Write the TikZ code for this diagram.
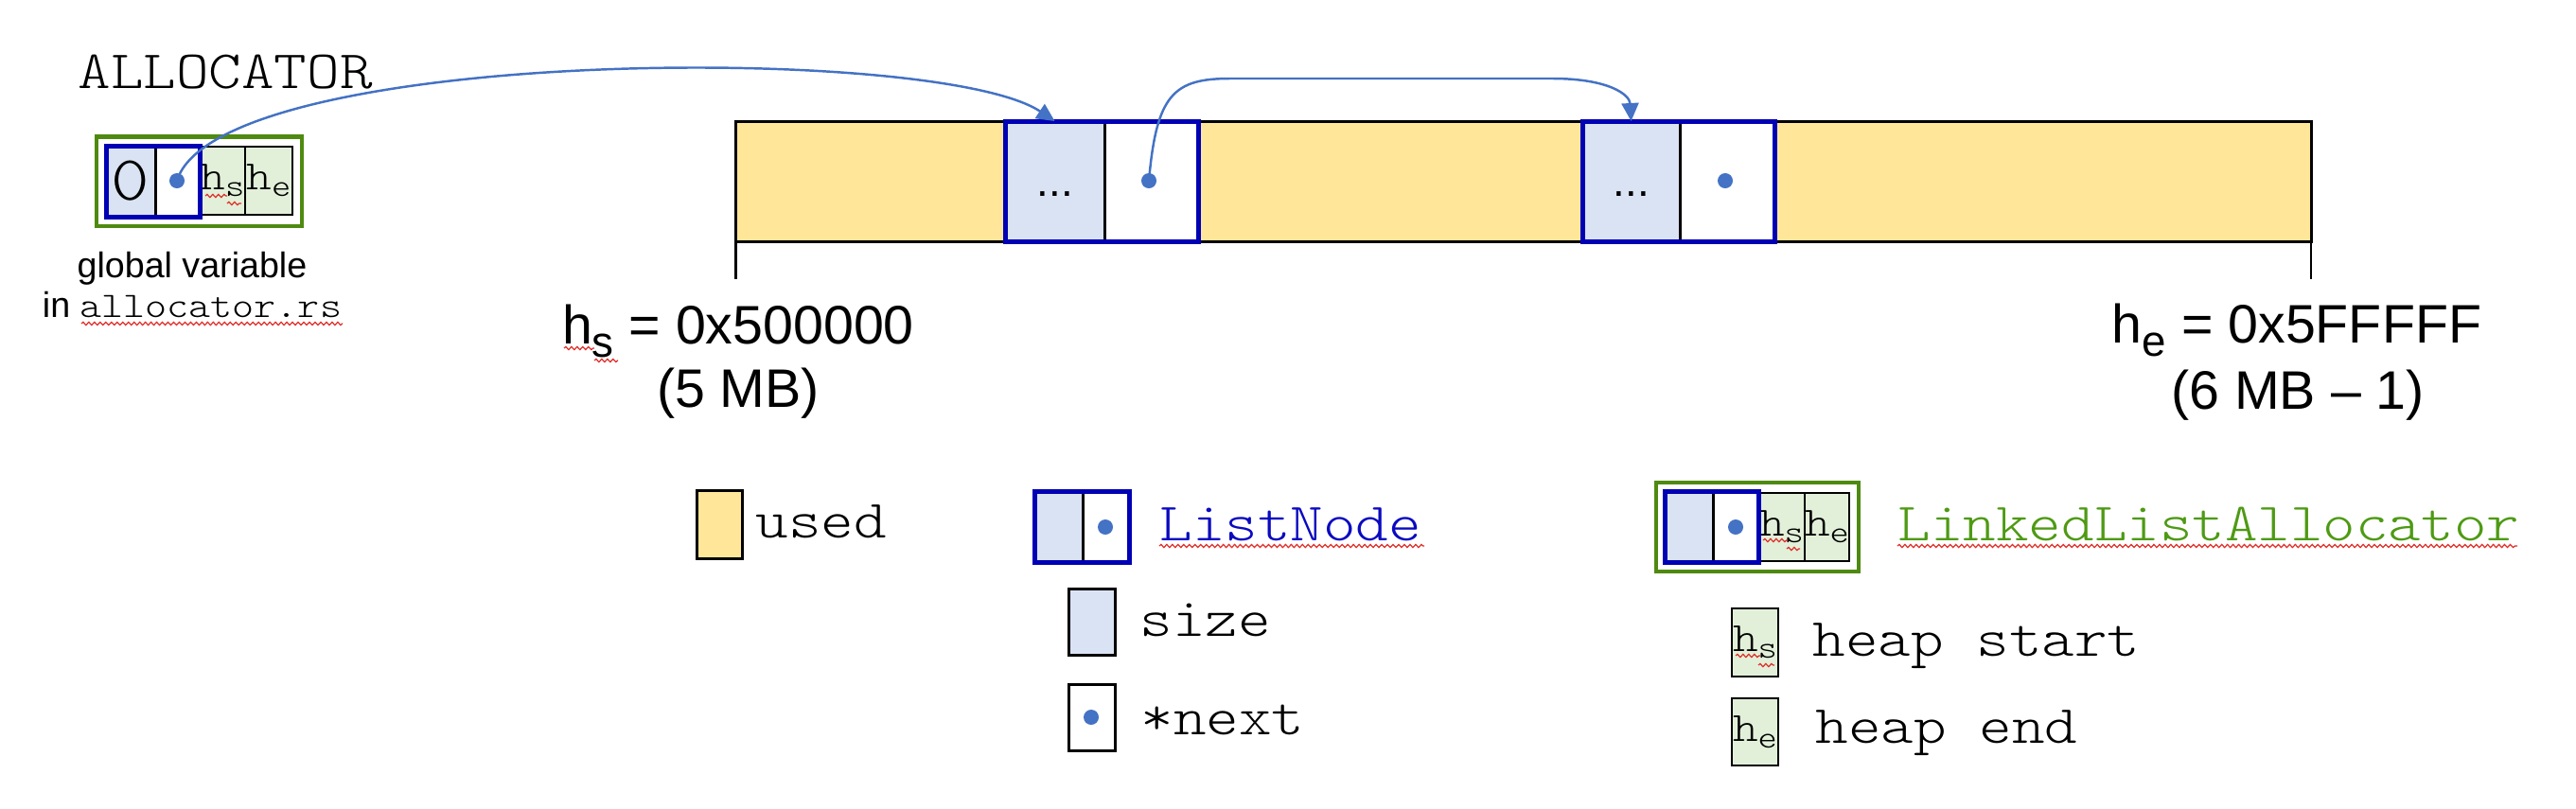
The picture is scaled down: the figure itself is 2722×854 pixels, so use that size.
\documentclass[tikz,border=0pt]{standalone}
\usepackage{fontspec}
\setmainfont{Liberation Sans}
\newfontfamily\mono[FakeStretch=1.155]{Latin Modern Mono Light}
\usetikzlibrary{arrows.meta,fit,decorations.pathmorphing}
\definecolor{heapy}{HTML}{FFE699}
\definecolor{lblue}{HTML}{DAE3F3}
\definecolor{lgreen}{HTML}{E2F0D9}
\definecolor{dblue}{HTML}{0000B4}
\definecolor{dgreen}{HTML}{4F8A10}
\definecolor{tgreen}{HTML}{4E9A14}
\definecolor{tblue}{HTML}{0A0AC0}
\definecolor{pblue}{HTML}{4472C4}
\definecolor{sqred}{HTML}{E0302A}
\newcommand{\hsub}[2]{#1\raisebox{-2pt}{\fontsize{9.5}{9.5}\selectfont #2}}
\tikzset{
  cellbase/.style={inner sep=0pt, outer sep=0pt, anchor=north west},
  sizecell/.style={cellbase, draw=black, line width=0.03cm, fill=lblue},
  nextcell/.style={cellbase, draw=black, line width=0.03cm, fill=white},
  hcell/.style={cellbase, draw=black, line width=0.025cm, fill=lgreen, font=\mono\fontsize{12.5}{12.5}\selectfont},
  usedcell/.style={cellbase, draw=black, line width=0.03cm, fill=heapy},
  bluefr/.style={draw=dblue, line width=0.05cm, inner sep=0pt, outer sep=0pt},
  greenfr/.style={draw=dgreen, line width=0.04cm, inner sep=0.095cm, outer sep=0pt},
  ptrdot/.style={circle, fill=pblue, inner sep=0pt, minimum size=0.16cm},
  ptr/.style={draw=pblue, line width=0.7pt, -{Triangle[length=0.19cm,width=0.18cm]}},
  squig/.style={draw=sqred, line width=0.35pt, decorate, decoration={snake, amplitude=0.45pt, segment length=1.7pt}},
  monolbl/.style={font=\mono\fontsize{16.2}{18}\selectfont, anchor=base west, inner sep=0pt},
  biglbl/.style={font=\fontsize{16.3}{18}\selectfont, anchor=base, inner sep=0pt},
  smalllbl/.style={font=\fontsize{10.7}{12}\selectfont, anchor=base, inner sep=0pt},
  tick/.style={draw=black},
  ell/.style={font=\fontsize{13}{13}\selectfont, anchor=base, inner sep=0pt},
}
\begin{document}
\begin{tikzpicture}[x=0.01cm,y=-0.01cm]
\useasboundingbox (0,0) rectangle (2722,854);

% ---------- ALLOCATOR global variable ----------
\node[monolbl] (alloctitle) at (82,93) {ALLOCATOR};
\node[sizecell, minimum width=0.52cm, minimum height=0.75cm, font=\mono\fontsize{19}{19}\selectfont] (asz) at (112,154) {0};
\node[nextcell, minimum width=0.47cm, minimum height=0.75cm] (anx) at (164,154) {};
\node[hcell, minimum width=0.48cm, minimum height=0.72cm] (ahs) at (211,155) {\hsub{h}{s}};
\node[hcell, minimum width=0.50cm, minimum height=0.72cm] (ahe) at (259,155) {\hsub{h}{e}};
\node[bluefr, fit=(asz)(anx)] (ablue) {};
\node[greenfr, fit=(ablue)(ahe)] (agreen) {};
\node[ptrdot] (adot) at (187,191) {};
\node[smalllbl] (cap1) at (203,293) {global variable};
\node[smalllbl] (cap2) at (203,335) {in {\mono\fontsize{10.8}{12}\selectfont allocator.rs}};
\draw[squig] (86,342) -- (362,342);
\draw[squig] (217,207) -- (240,207);
\draw[squig] (240,215) -- (255,215);

% ---------- heap ----------
\node[usedcell, minimum width=16.64cm, minimum height=1.27cm] (heap) at (777,128) {};
\node[sizecell, minimum width=1.05cm, minimum height=1.27cm] (n1sz) at (1062,128) {};
\node[nextcell, minimum width=0.99cm, minimum height=1.27cm] (n1nx) at (1167,128) {};
\node[bluefr, fit=(n1sz)(n1nx)] (n1fr) {};
\node[ell] (n1dots) at (1115,207) {...};
\node[ptrdot] (d1) at (1214,191) {};

\node[sizecell, minimum width=1.03cm, minimum height=1.27cm] (n2sz) at (1672,128) {};
\node[nextcell, minimum width=1.00cm, minimum height=1.27cm] (n2nx) at (1775,128) {};
\node[bluefr, fit=(n2sz)(n2nx)] (n2fr) {};
\node[ell] (n2dots) at (1724,207) {...};
\node[ptrdot] (d2) at (1823,191) {};

\draw[tick, line width=0.03cm] (heap.south west) -- ++(0,40);
\draw[tick, line width=0.015cm] (heap.south east) -- ++(0,40);

\node[biglbl] (hslbl) at (780,363) {h\raisebox{-4.2pt}{\fontsize{13}{13}\selectfont s} = 0x500000};
\node[biglbl] (hsmb) at (780,430) {(5 MB)};
\node[biglbl] (helbl) at (2427,362) {h\raisebox{-4.2pt}{\fontsize{13}{13}\selectfont e} = 0x5FFFFF};
\node[biglbl] (hemb) at (2428,432) {(6 MB – 1)};
\draw[squig] (596,368) -- (628,368);
\draw[squig] (628,381) -- (653,381);

% ---------- pointers ----------
\draw[ptr] (adot.center) .. controls (230,50) and (990,45) .. (n1sz.north);
\draw[ptr] (d1.center) .. controls (1222,100) and (1240,83) .. (1300,83) -- (1640,83) .. controls (1700,83) and (1722,100) .. (n2sz.north);

% ---------- legend ----------
\node[usedcell, minimum width=0.48cm, minimum height=0.72cm] (usedbox) at (736,518) {};
\node[monolbl] (usedtxt) at (798,568) {used};

\node[sizecell, minimum width=0.51cm, minimum height=0.75cm] (lsz) at (1093,519) {};
\node[nextcell, minimum width=0.49cm, minimum height=0.75cm] (lnx) at (1144,519) {};
\node[bluefr, fit=(lsz)(lnx)] (lfr) {};
\node[ptrdot] (ldot) at (1168,557) {};
\node[monolbl, text=tblue] (lntxt) at (1225,571) {ListNode};
\draw[squig] (1225,577) -- (1505,577);

\node[sizecell, minimum width=0.49cm, minimum height=0.70cm] (sizebox) at (1129,622) {};
\node[monolbl] (sizetxt) at (1204,672) {size};
\node[nextcell, minimum width=0.49cm, minimum height=0.70cm] (nextbox) at (1129,723) {};
\node[ptrdot] (nextdot) at (1153,758) {};
\node[monolbl] (nexttxt) at (1205,776) {*next};

\node[sizecell, minimum width=0.51cm, minimum height=0.75cm] (gsz) at (1759,519) {};
\node[nextcell, minimum width=0.48cm, minimum height=0.75cm] (gnx) at (1810,519) {};
\node[hcell, minimum width=0.49cm, minimum height=0.72cm] (ghs) at (1858,521) {\hsub{h}{s}};
\node[hcell, minimum width=0.47cm, minimum height=0.72cm] (ghe) at (1907,521) {\hsub{h}{e}};
\node[bluefr, fit=(gsz)(gnx)] (gblue) {};
\node[greenfr, fit=(gblue)(ghe)] (ggreen) {};
\node[ptrdot] (gdot) at (1834,557) {};
\node[monolbl, text=tgreen] (llatxt) at (2005,571) {LinkedListAllocator};
\draw[squig] (2005,577) -- (2660,577);
\draw[squig] (1863,571) -- (1889,571);
\draw[squig] (1888,580) -- (1902,580);

\node[hcell, minimum width=0.49cm, minimum height=0.72cm] (hsbox) at (1830,643) {\hsub{h}{s}};
\node[monolbl] (hstxt) at (1915,693) {heap start};
\node[hcell, minimum width=0.49cm, minimum height=0.71cm] (hebox) at (1830,738) {\hsub{h}{e}};
\node[monolbl] (hetxt) at (1918,785) {heap end};
\draw[squig] (1834,693) -- (1860,693);
\draw[squig] (1858,703) -- (1875,703);
\end{tikzpicture}
\end{document}
